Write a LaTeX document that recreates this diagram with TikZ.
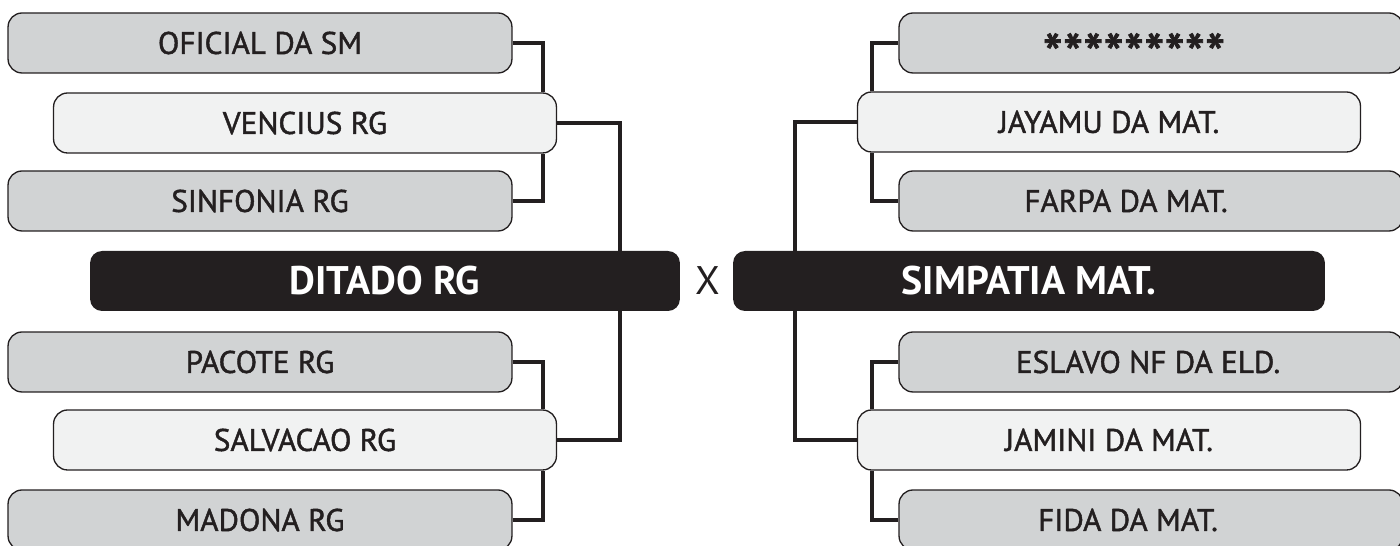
\documentclass[tikz,border=0pt]{standalone}
\usepackage{fontspec}
\setmainfont{PT Sans}
\newfontfamily\namefont[FakeBold=1.4]{PT Sans}
\definecolor{ink}{HTML}{231F20}
\definecolor{grey}{HTML}{D1D3D4}
\definecolor{pale}{HTML}{F1F2F2}
\begin{document}
\begin{tikzpicture}[x=0.02cm, y=-0.02cm,
	name text/.style={text=ink, font=\namefont\fontsize{17.8}{20}\selectfont},
	box/.style={draw=ink, line width=0.75pt, rounded corners=0.28cm, minimum height=1.2cm, inner sep=0pt, name text},
	gbox/.style={box, fill=grey, minimum width=10.08cm},
	pbox/.style={box, fill=pale, minimum width=10.06cm},
	team/.style={fill=ink, rounded corners=0.24cm, minimum height=1.2cm, inner sep=0pt, text=white, font=\fontsize{22.7}{26}\bfseries\selectfont},
	link/.style={draw=ink, line width=2.4pt, line join=miter}]
	\useasboundingbox (0,0) rectangle (1400,546);
	\clip (0,0) rectangle (1400,546);
	% left bracket
	\node[gbox] (oficial) at (260,43) {OFICIAL DA SM};
	\node[pbox] (vencius) at (305,123) {VENCIUS RG};
	\node[gbox] (sinfonia) at (260,201) {SINFONIA RG};
	\node[team, minimum width=11.8cm] (ditado) at (385,281) {DITADO RG};
	\node[gbox] (pacote) at (260,362) {PACOTE RG};
	\node[pbox] (salvacao) at (305,440) {SALVACAO RG};
	\node[gbox] (madona) at (260,520) {MADONA RG};
	\node[text=ink, font=\fontsize{22.7}{26}\selectfont] (versus) at (708,281) {X};
	% right bracket
	\node[gbox, label={[name text, xshift=-0.34cm, yshift=-0.22cm]center:\scalebox{1.85}{*********}}] (stars) at (1151,43) {};
	\node[pbox] (jayamu) at (1109,122) {JAYAMU DA MAT.};
	\node[gbox, label={[name text, xshift=-0.5cm]center:FARPA DA MAT.}] (farpa) at (1151,201) {};
	\node[team, minimum width=11.84cm] (simpatia) at (1029,281) {SIMPATIA MAT.};
	\node[gbox, label={[name text, xshift=-0.06cm]center:ESLAVO NF DA ELD.}] (eslavo) at (1151,362) {};
	\node[pbox] (jamini) at (1109,440) {JAMINI DA MAT.};
	\node[gbox, label={[name text, xshift=-0.46cm]center:FIDA DA MAT.}] (fida) at (1151,520) {};
	\coordinate (li) at (543,0);
	\coordinate (lo) at (620,0);
	\coordinate (ri) at (872,0);
	\coordinate (ro) at (795,0);
	\draw[link] (oficial.east) -| (li |- vencius.north);
	\draw[link] (sinfonia.east) -| (li |- vencius.south);
	\draw[link] (pacote.east) -| (li |- salvacao.north);
	\draw[link] (madona.east) -| (li |- salvacao.south);
	\draw[link] (vencius.east) -| (lo |- ditado.north);
	\draw[link] (ditado.south -| lo) |- (salvacao.east);
	\draw[link] (stars.west) -| (ri |- jayamu.north);
	\draw[link] (farpa.west) -| (ri |- jayamu.south);
	\draw[link] (eslavo.west) -| (ri |- jamini.north);
	\draw[link] (fida.west) -| (ri |- jamini.south);
	\draw[link] (jayamu.west) -| (ro |- simpatia.north);
	\draw[link] (simpatia.south -| ro) |- (jamini.west);
\end{tikzpicture}
\end{document}
